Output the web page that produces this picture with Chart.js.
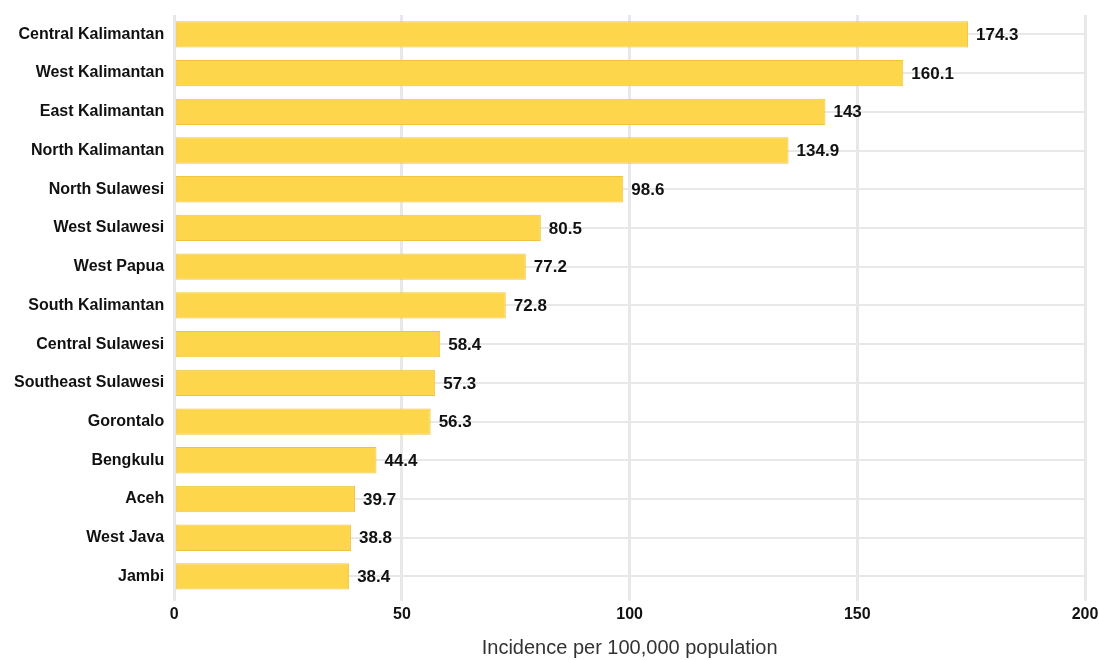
<!DOCTYPE html>
<html>
<head>
<meta charset="utf-8">
<script src="https://cdn.jsdelivr.net/npm/chart.js@4/dist/chart.umd.min.js"></script>
<style>
  body { margin: 0; background: #fff; }
  #wrap { width: 1099px; height: 660px; }
</style>
</head>
<body>
<div id="wrap"><canvas id="incChart" width="1099" height="660"></canvas></div>
<script>
// provinces, highest first
var provinces = ["Central Kalimantan", "West Kalimantan", "East Kalimantan", "North Kalimantan",
  "North Sulawesi", "West Sulawesi", "West Papua", "South Kalimantan", "Central Sulawesi",
  "Southeast Sulawesi", "Gorontalo", "Bengkulu", "Aceh", "West Java", "Jambi"];
var incidence = [174.3, 160.1, 143, 134.9, 98.6, 80.5, 77.2, 72.8, 58.4, 57.3, 56.3, 44.4, 39.7, 38.8, 38.4];
var xTicks = [0, 50, 100, 150, 200];

var FONT = "'Liberation Sans', Arial, sans-serif";

// value labels at the end of each bar
var barLabels = {
  id: "barLabels",
  afterDatasetsDraw: function(chart) {
    var ctx = chart.ctx;
    var meta = chart.getDatasetMeta(0);
    ctx.save();
    ctx.font = "bold 17px " + FONT;
    ctx.fillStyle = "#111";
    ctx.textAlign = "left";
    ctx.textBaseline = "middle";
    meta.data.forEach(function(bar, i) {
      ctx.fillText(String(incidence[i]), bar.x + 8, bar.y + 1);
    });
    ctx.restore();
  }
};

new Chart("incChart", {
  type: "bar",
  data: {
    labels: provinces,
    datasets: [{
      data: incidence,
      backgroundColor: "#FDD64B",
      borderColor: "#F0C440",
      borderWidth: 1,
      borderSkipped: false,
      barPercentage: 0.68,
      categoryPercentage: 1
    }]
  },
  options: {
    indexAxis: "y",
    responsive: false,
    animation: false,
    layout: { padding: { top: 15, right: 0, left: 4, bottom: 0 } },
    plugins: {
      legend: { display: false },
      tooltip: { enabled: false }
    },
    scales: {
      x: {
        min: 0,
        max: 200,
        afterBuildTicks: function(scale) {
          scale.ticks = xTicks.map(function(v) { return { value: v }; });
        },
        afterFit: function(scale) { scale.paddingRight = 14; },
        grid: { color: "#e8e8e8", lineWidth: 3, tickLength: 5 },
        border: { display: false },
        ticks: {
          color: "#111",
          font: { family: FONT, size: 16, weight: "bold" },
          padding: 4
        },
        title: {
          display: true,
          text: "Incidence per 100,000 population",
          color: "#333",
          font: { family: FONT, size: 20 },
          padding: { top: 8, bottom: 0 }
        }
      },
      y: {
        afterFit: function(scale) { scale.paddingTop = 0; scale.paddingBottom = 0; },
        grid: { color: "#e8e8e8", lineWidth: 2, offset: false, drawTicks: false },
        border: { display: false },
        ticks: {
          color: "#111",
          font: { family: FONT, size: 16, weight: "bold" },
          padding: 10
        }
      }
    }
  },
  plugins: [barLabels]
});
</script>
</body>
</html>
